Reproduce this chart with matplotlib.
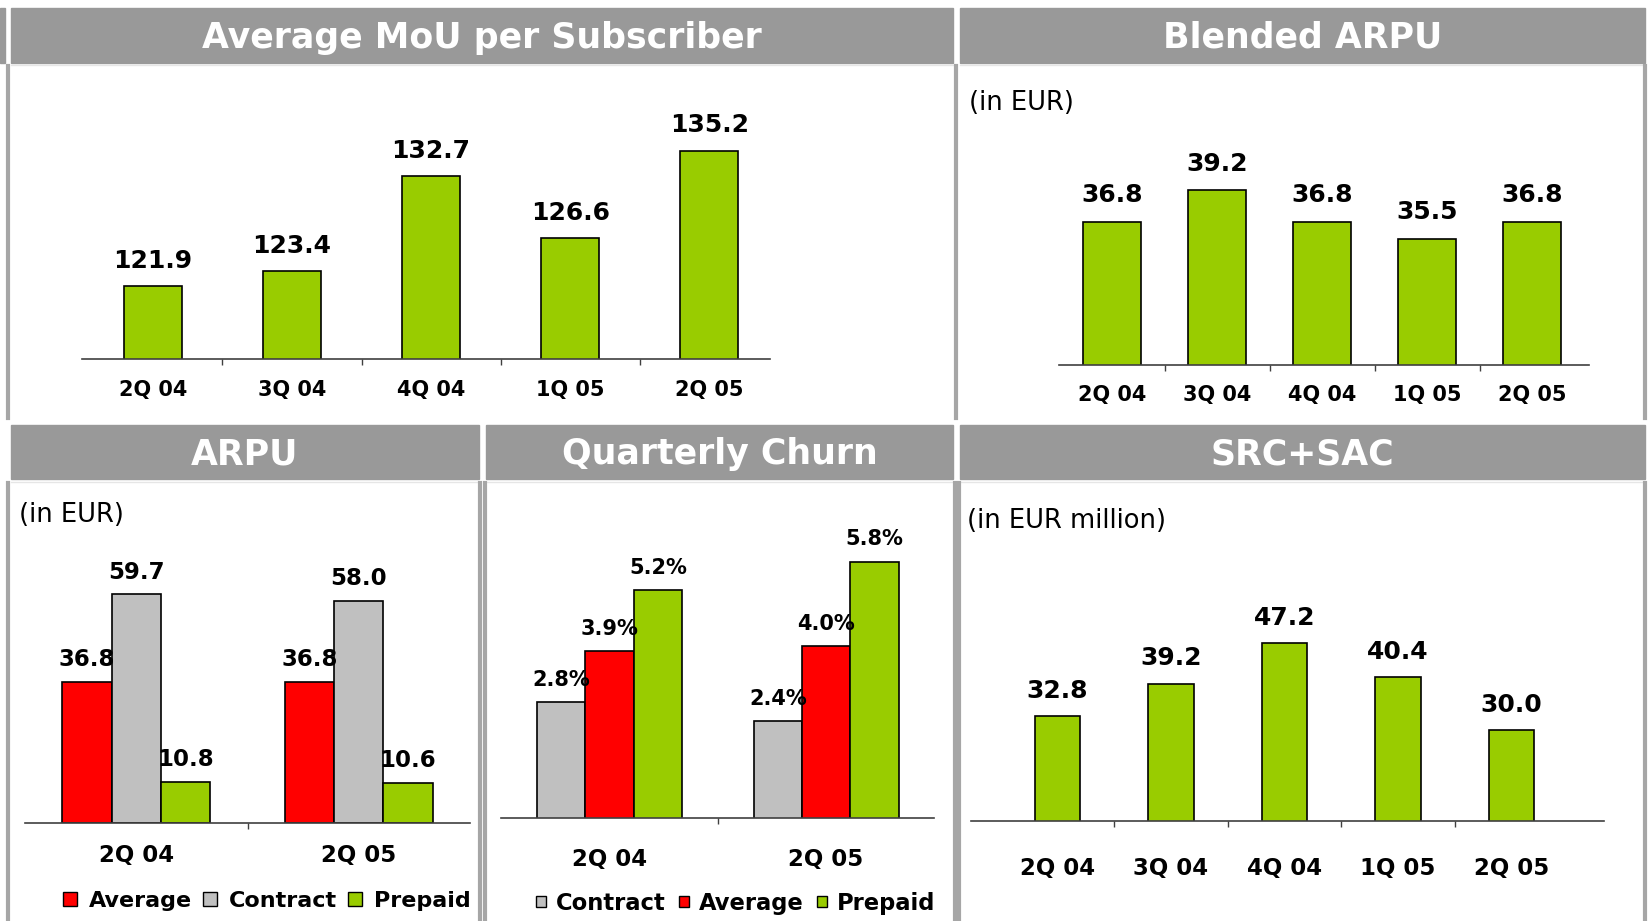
import matplotlib
matplotlib.use("Agg")
import matplotlib.pyplot as plt
from matplotlib.patches import Rectangle, Patch
from matplotlib.lines import Line2D

GREEN = '#99CC00'
RED = '#FF0000'
GREY = '#C0C0C0'
BAR_GREY = '#999999'
BORDER = '#A6A6A6'

# data
quarters = ['2Q 04', '3Q 04', '4Q 04', '1Q 05', '2Q 05']
mou = [121.9, 123.4, 132.7, 126.6, 135.2]
blended_arpu = [36.8, 39.2, 36.8, 35.5, 36.8]
src_sac = [32.8, 39.2, 47.2, 40.4, 30.0]

years = ['2Q 04', '2Q 05']
arpu_average = [36.8, 36.8]
arpu_contract = [59.7, 58.0]
arpu_prepaid = [10.8, 10.6]

churn_contract = [2.8, 2.4]
churn_average = [3.9, 4.0]
churn_prepaid = [5.2, 5.8]

# layout is measured on a 1568x876 grid
W, H = 1568.0, 876.0
fig = plt.figure(figsize=(16.48, 9.21), dpi=100)


def fx(x):
    return x / W


def fy(y):
    return 1 - y / H


def title_bar(x0, x1, y0, y1, text):
    fig.patches.append(Rectangle((fx(x0), fy(y1)), fx(x1) - fx(x0), (y1 - y0) / H,
                                 transform=fig.transFigure, color=BAR_GREY, zorder=0))
    if text:
        fig.text(fx((x0 + x1) / 2), fy((y0 + y1) / 2 + 2), text, color='white', fontsize=25,
                 fontweight='bold', ha='center', va='center')


def vline(x, y0, y1):
    fig.add_artist(Line2D([fx(x), fx(x)], [fy(y0), fy(y1)], color=BORDER, lw=3))


def hline(x0, x1, y):
    fig.add_artist(Line2D([fx(x0), fx(x1)], [fy(y), fy(y)], color='#E6E6E6', lw=1))


title_bar(0, 5, 8, 60, '')
title_bar(10, 907, 8, 60, 'Average MoU per Subscriber')
title_bar(913, 1565, 8, 60, 'Blended ARPU')
title_bar(10, 456, 404, 456, 'ARPU')
title_bar(462, 907, 404, 456, 'Quarterly Churn')
title_bar(913, 1565, 404, 456, 'SRC+SAC')

for x0, x1 in [(10, 907), (913, 1565)]:
    hline(x0, x1, 62)
for x0, x1 in [(10, 456), (462, 907), (913, 1565)]:
    hline(x0, x1, 458)

vline(8, 63, 398)
vline(910, 63, 398)
vline(1565, 63, 398)
for x in [8, 457, 461, 909, 912, 1565]:
    vline(x, 459, 876)


def make_ax(x0, x1, ybase, ytop, xlim, ylim):
    ax = fig.add_axes([fx(x0), fy(ybase), (x1 - x0) / W, (ybase - ytop) / H])
    ax.set_xlim(*xlim)
    ax.set_ylim(*ylim)
    for s in ['left', 'right', 'top']:
        ax.spines[s].set_visible(False)
    ax.spines['bottom'].set_color('#404040')
    ax.spines['bottom'].set_linewidth(1.2)
    ax.set_yticks([])
    ax.patch.set_alpha(0)
    return ax


def style_ticks(ax, n, labels, size, pad):
    ax.set_xticks(range(n))
    ax.set_xticklabels(labels, fontsize=size, fontweight='bold')
    ax.set_xticks([i + 0.5 for i in range(n - 1)], minor=True)
    ax.tick_params(axis='x', which='major', length=0, pad=pad)
    ax.tick_params(axis='x', which='minor', length=4, width=1, color='#404040', direction='out')


def labels_on(ax, xs, vals, fmt, size, off):
    for x, v in zip(xs, vals):
        ax.annotate(fmt.format(v), (x, v), xytext=(0, off), textcoords='offset points',
                    ha='center', va='center', fontsize=size, fontweight='bold',
                    annotation_clip=False)


# Average MoU per Subscriber
ax1 = make_ax(78, 733, 341, 100, (-0.51, 4.44), (114.8, 139.65))
xs = range(len(quarters))
ax1.bar(xs, mou, width=0.416, color=GREEN, edgecolor='black', linewidth=1.2)
style_ticks(ax1, 5, quarters, 15, 15.5)
labels_on(ax1, xs, mou, '{:.1f}', 18, 18.2)

# Blended ARPU
ax2 = make_ax(1008, 1512, 347, 130, (-0.5, 4.54), (25.9, 43.26))
ax2.bar(xs, blended_arpu, width=0.55, color=GREEN, edgecolor='black', linewidth=1.2)
style_ticks(ax2, 5, quarters, 15, 14.5)
labels_on(ax2, xs, blended_arpu, '{:.1f}', 18, 18.9)
fig.text(fx(922), fy(98), '(in EUR)', fontsize=18.5, ha='left', va='center')

# ARPU
ax3 = make_ax(24, 447, 783, 520, (-0.5, 1.5), (0, 72.05))
w = 0.222
gx = range(len(years))
ax3.bar([i - w for i in gx], arpu_average, width=w, color=RED, edgecolor='black', linewidth=1.2)
ax3.bar(list(gx), arpu_contract, width=w, color=GREY, edgecolor='black', linewidth=1.2)
ax3.bar([i + w for i in gx], arpu_prepaid, width=w, color=GREEN, edgecolor='black', linewidth=1.2)
style_ticks(ax3, 2, years, 16.5, 14.7)
labels_on(ax3, [i - w for i in gx], arpu_average, '{:.1f}', 16.5, 15.9)
labels_on(ax3, list(gx), arpu_contract, '{:.1f}', 16.5, 15.9)
labels_on(ax3, [i + w for i in gx], arpu_prepaid, '{:.1f}', 16.5, 15.9)
fig.text(fx(18), fy(490), '(in EUR)', fontsize=18.5, ha='left', va='center')
fig.legend(handles=[Patch(facecolor=RED, edgecolor='black', label='Average'),
                    Patch(facecolor=GREY, edgecolor='black', label='Contract'),
                    Patch(facecolor=GREEN, edgecolor='black', label='Prepaid')],
           loc='center', bbox_to_anchor=(fx(254), fy(857)), ncol=3, frameon=False,
           prop={'size': 16, 'weight': 'bold'}, handlelength=0.62, handleheight=0.62,
           handletextpad=0.57, columnspacing=0.47, borderpad=0, borderaxespad=0)

# Quarterly Churn
ax4 = make_ax(477, 889, 778, 510, (-0.5, 1.5), (0.34, 6.34))
w = 0.223
ax4.bar([i - w for i in gx], churn_contract, width=w, color=GREY, edgecolor='black', linewidth=1.2)
ax4.bar(list(gx), churn_average, width=w, color=RED, edgecolor='black', linewidth=1.2)
ax4.bar([i + w for i in gx], churn_prepaid, width=w, color=GREEN, edgecolor='black', linewidth=1.2)
style_ticks(ax4, 2, years, 16.5, 21.5)
labels_on(ax4, [i - w for i in gx], churn_contract, '{:.1f}%', 15, 15.9)
labels_on(ax4, list(gx), churn_average, '{:.1f}%', 15, 15.9)
labels_on(ax4, [i + w for i in gx], churn_prepaid, '{:.1f}%', 15, 15.9)
fig.legend(handles=[Patch(facecolor=GREY, edgecolor='black', label='Contract'),
                    Patch(facecolor=RED, edgecolor='black', label='Average'),
                    Patch(facecolor=GREEN, edgecolor='black', label='Prepaid')],
           loc='center', bbox_to_anchor=(fx(700), fy(859)), ncol=3, frameon=False,
           prop={'size': 16.3, 'weight': 'bold'}, handlelength=0.43, handleheight=0.43,
           handletextpad=0.43, columnspacing=0.6, borderpad=0, borderaxespad=0)

# SRC+SAC
ax5 = make_ax(924, 1526, 781, 540, (-0.759, 4.815), (12.1, 62.0))
ax5.bar(xs, src_sac, width=0.40, color=GREEN, edgecolor='black', linewidth=1.2)
style_ticks(ax5, 5, quarters, 16.5, 25.5)
labels_on(ax5, xs, src_sac, '{:.1f}', 18, 18.2)
fig.text(fx(920), fy(496), '(in EUR million)', fontsize=18.5, ha='left', va='center')

fig.savefig('out.png', dpi=100, facecolor='white')
